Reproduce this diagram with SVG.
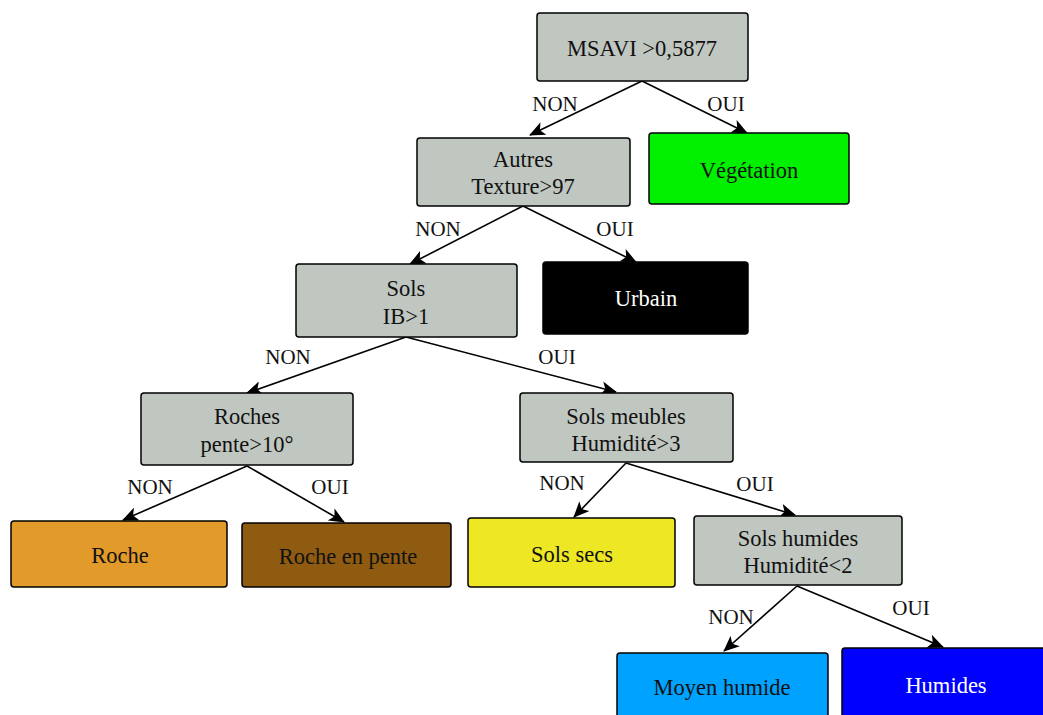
<svg xmlns="http://www.w3.org/2000/svg" width="1043" height="715" viewBox="0 0 1043 715">
<style>
.n{stroke:#000;stroke-width:1.5}
.g{fill:#C0C6C0}
text{font-family:"Liberation Serif","Times New Roman",serif;font-size:22.5px;text-anchor:middle;fill:#111}
.l{font-size:21px}
.w{fill:#fff}
.e{stroke:#000;stroke-width:1.6;fill:none;marker-end:url(#ah)}
</style>
<defs>
<marker id="ah" viewBox="0 0 16 14" refX="15" refY="7" markerWidth="16" markerHeight="14" markerUnits="userSpaceOnUse" orient="auto">
<path d="M0,0 L16,7 L0,14 L4,7 Z" fill="#000"/>
</marker>
</defs>
<rect width="1043" height="715" fill="#fff"/>
<g id="edges">
<line class="e" x1="642" y1="81" x2="530" y2="135"/>
<line class="e" x1="642" y1="81" x2="747" y2="133"/>
<line class="e" x1="523" y1="206" x2="410" y2="264"/>
<line class="e" x1="523" y1="206" x2="636" y2="262"/>
<line class="e" x1="406" y1="337" x2="247" y2="393"/>
<line class="e" x1="406" y1="337" x2="616" y2="392"/>
<line class="e" x1="247" y1="466" x2="123" y2="520"/>
<line class="e" x1="247" y1="466" x2="344" y2="522"/>
<line class="e" x1="626" y1="463" x2="574" y2="517"/>
<line class="e" x1="626" y1="463" x2="795" y2="515"/>
<line class="e" x1="797" y1="586" x2="724" y2="651"/>
<line class="e" x1="797" y1="586" x2="943" y2="647"/>
<text class="l" x="555" y="111">NON</text>
<text class="l" x="726" y="111">OUI</text>
<text class="l" x="438" y="236">NON</text>
<text class="l" x="615" y="236">OUI</text>
<text class="l" x="288" y="364">NON</text>
<text class="l" x="557" y="364">OUI</text>
<text class="l" x="150" y="494">NON</text>
<text class="l" x="330" y="494">OUI</text>
<text class="l" x="562" y="490">NON</text>
<text class="l" x="755" y="491">OUI</text>
<text class="l" x="731" y="624">NON</text>
<text class="l" x="911" y="615">OUI</text>
</g>
<g id="msavi"><rect class="n g" x="537" y="13" width="211" height="68" rx="3"/><text x="642" y="56">MSAVI &gt;0,5877</text></g>
<g id="vegetation"><rect class="n" fill="#00F000" x="649" y="133" width="200" height="71" rx="3"/><text x="749" y="178">Végétation</text></g>
<g id="autres"><rect class="n g" x="417" y="138" width="213" height="68" rx="3"/><text x="523" y="167">Autres</text><text x="523" y="194">Texture&gt;97</text></g>
<g id="urbain"><rect class="n" fill="#000" x="543" y="262" width="205" height="72" rx="3"/><text class="w" x="646" y="306">Urbain</text></g>
<g id="sols"><rect class="n g" x="296" y="264" width="221" height="73" rx="3"/><text x="406" y="296">Sols</text><text x="406" y="324">IB&gt;1</text></g>
<g id="roches"><rect class="n g" x="141" y="393" width="212" height="72" rx="3"/><text x="247" y="424">Roches</text><text x="247" y="452">pente&gt;10°</text></g>
<g id="solsmeubles"><rect class="n g" x="520" y="393" width="213" height="69" rx="3"/><text x="626" y="424">Sols meubles</text><text x="626" y="451">Humidité&gt;3</text></g>
<g id="roche"><rect class="n" fill="#E29A2B" x="11" y="521" width="216" height="66" rx="3"/><text x="120" y="563">Roche</text></g>
<g id="rochepente"><rect class="n" fill="#8F5B10" x="242" y="523" width="209" height="64" rx="3"/><text x="348" y="564">Roche en pente</text></g>
<g id="solssecs"><rect class="n" fill="#EDE724" x="468" y="518" width="207" height="69" rx="3"/><text x="572" y="562">Sols secs</text></g>
<g id="solshumides"><rect class="n g" x="694" y="516" width="208" height="69" rx="3"/><text x="798" y="546">Sols humides</text><text x="798" y="573">Humidité&lt;2</text></g>
<g id="moyenhumide"><rect class="n" fill="#00A2FF" x="617" y="653" width="211" height="70" rx="3"/><text x="722" y="695">Moyen humide</text></g>
<g id="humides"><rect class="n" fill="#0000FF" x="842" y="648" width="203" height="75" rx="3"/><text class="w" x="946" y="693">Humides</text></g>
</svg>
